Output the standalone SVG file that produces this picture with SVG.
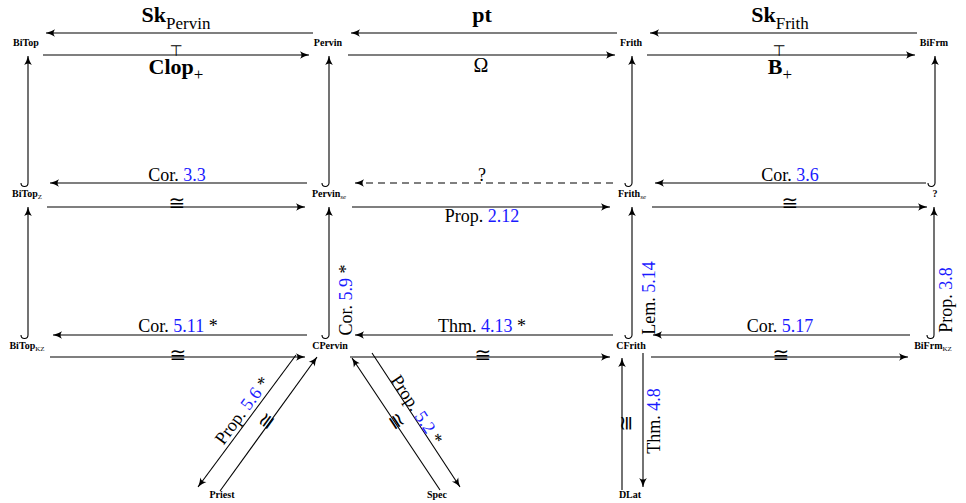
<svg xmlns="http://www.w3.org/2000/svg" width="966" height="503" viewBox="0 0 966 503">
<style>
.n{font-family:"Liberation Serif","Times New Roman",serif;font-weight:bold;font-size:10px;fill:#000;text-anchor:middle}
.s{font-weight:normal;font-size:7px}
.si{font-weight:normal;font-style:italic;font-size:7px}
.l{font-family:"Liberation Serif","Times New Roman",serif;font-size:18px;fill:#000;text-anchor:middle}
.b{font-weight:bold;font-size:22px}
.sub{font-weight:normal;font-size:17px}
.r{fill:#1a1aff}
.e{fill:none;stroke:#000;stroke-width:1.1;marker-end:url(#ah)}
.d{stroke-dasharray:7,5}
.t{font-family:"DejaVu Sans",sans-serif;font-size:15px;text-anchor:middle;fill:#000}
.c{font-family:"DejaVu Sans",sans-serif;font-size:20px;text-anchor:middle;fill:#000}
</style>
<defs>
<marker id="ah" viewBox="-10 -5 12 10" refX="0" refY="0" markerWidth="12" markerHeight="10" markerUnits="userSpaceOnUse" orient="auto">
<path d="M0,0 Q-5,-1.2 -9,-3.8 Q-6,0 -9,3.8 Q-5,1.2 0,0 Z" fill="#000"/>
</marker>
</defs>
<rect width="966" height="503" fill="#fff"/>
<g id="connectors">
<path class="e" d="M313,33 L46,33"/>
<path class="e" d="M43,55 L309,55"/>
<path class="e" d="M617,33 L351,33"/>
<path class="e" d="M348,55 L615,55"/>
<path class="e" d="M917,33 L650,33"/>
<path class="e" d="M647,55 L915,55"/>
<path class="e" d="M307,183 L50,183"/>
<path class="e" d="M47,207 L305,207"/>
<path class="e d" d="M613,183 L355,183"/>
<path class="e" d="M352,207 L610,207"/>
<path class="e" d="M926,183 L655,183"/>
<path class="e" d="M652,207 L927,207"/>
<path class="e" d="M307,335 L53,335"/>
<path class="e" d="M50,357 L305,357"/>
<path class="e" d="M613,335 L355,335"/>
<path class="e" d="M350,357 L610,357"/>
<path class="e" d="M910,335 L653,335"/>
<path class="e" d="M651,357 L908,357"/>
<path class="e" d="M21,183 A3.5,3.5 0 0 0 28,183 L28,56"/>
<path class="e" d="M322,183 A3.5,3.5 0 0 0 329,183 L329,56"/>
<path class="e" d="M625,183 A3.5,3.5 0 0 0 632,183 L632,56"/>
<path class="e" d="M928,183 A3.5,3.5 0 0 0 935,183 L935,56"/>
<path class="e" d="M21,335 A3.5,3.5 0 0 0 28,335 L28,207"/>
<path class="e" d="M322,335 A3.5,3.5 0 0 0 329,335 L329,207"/>
<path class="e" d="M625,335 A3.5,3.5 0 0 0 632,335 L632,207"/>
<path class="e" d="M927,335 A3.5,3.5 0 0 0 934,335 L934,207"/>
<path class="e" d="M296,355 L198,487"/>
<path class="e" d="M220,491 L317,357"/>
<path class="e" d="M440,490 L352,358"/>
<path class="e" d="M372,353 L460,487"/>
<path class="e" d="M622,490 L622,358"/>
<path class="e" d="M643,353 L643,487"/>
<g id="edge-labels">
<text class="l" x="176" y="22"><tspan class="b">Sk</tspan><tspan class="sub" dy="6.5">Pervin</tspan></text>
<text class="t" x="176" y="56">⊤</text>
<text class="l" x="176" y="74"><tspan class="b">Clop</tspan><tspan class="sub" dy="6">+</tspan></text>
<text class="l" x="482" y="22"><tspan class="b">pt</tspan></text>
<text class="l" x="481" y="72" style="font-size:20px">Ω</text>
<text class="l" x="780" y="22"><tspan class="b">Sk</tspan><tspan class="sub" dy="6.5">Frith</tspan></text>
<text class="t" x="779" y="56">⊤</text>
<text class="l" x="780" y="74"><tspan class="b">B</tspan><tspan class="sub" dy="6">+</tspan></text>
<text class="l" x="177" y="181">Cor. <tspan class="r">3.3</tspan></text>
<text class="c" x="177" y="210">≅</text>
<text class="l" x="482" y="181">?</text>
<text class="l" x="482" y="222">Prop. <tspan class="r">2.12</tspan></text>
<text class="l" x="790" y="181">Cor. <tspan class="r">3.6</tspan></text>
<text class="c" x="790" y="210">≅</text>
<text class="l" x="178" y="332">Cor. <tspan class="r">5.11</tspan> *</text>
<text class="c" x="178" y="362">≅</text>
<text class="l" x="482" y="332">Thm. <tspan class="r">4.13</tspan> *</text>
<text class="c" x="483" y="362">≅</text>
<text class="l" x="780" y="332">Cor. <tspan class="r">5.17</tspan></text>
<text class="c" x="781" y="362">≅</text>
<text class="l" transform="translate(352,300) rotate(-90)">Cor. <tspan class="r">5.9</tspan> *</text>
<text class="l" transform="translate(655,298) rotate(-90)">Lem. <tspan class="r">5.14</tspan></text>
<text class="l" transform="translate(952,300) rotate(-90)">Prop. <tspan class="r">3.8</tspan></text>
<text class="l" transform="translate(660,421) rotate(-90)">Thm. <tspan class="r">4.8</tspan></text>
<text class="l" transform="translate(247,414) rotate(-53.4)">Prop. <tspan class="r">5.6</tspan> *</text>
<text class="c" transform="translate(272,425) rotate(-54)">≅</text>
<text class="l" transform="translate(412,413) rotate(56.5)">Prop. <tspan class="r">5.2</tspan> *</text>
<text class="c" transform="translate(391,425) rotate(56.3)">≅</text>
<text class="c" transform="translate(633,423) rotate(-90)">≅</text>
</g>
</g>
<g id="node-BiTop"><text class="n" x="26" y="46">BiTop</text></g>
<g id="node-Pervin"><text class="n" x="328" y="46">Pervin</text></g>
<g id="node-Frith"><text class="n" x="631" y="46">Frith</text></g>
<g id="node-BiFrm"><text class="n" x="934" y="46">BiFrm</text></g>
<g id="node-BiTopZ"><text class="n" x="27" y="197">BiTop<tspan class="s" dy="1.5">Z</tspan></text></g>
<g id="node-Pervinse"><text class="n" x="329" y="197">Pervin<tspan class="si" dy="1.5">se</tspan></text></g>
<g id="node-Frithse"><text class="n" x="632" y="197">Frith<tspan class="si" dy="1.5">se</tspan></text></g>
<g id="node-Q"><text class="n" x="935" y="197">?</text></g>
<g id="node-BiTopKZ"><text class="n" x="27" y="349">BiTop<tspan class="s" dy="1.5">KZ</tspan></text></g>
<g id="node-CPervin"><text class="n" x="330" y="349">CPervin</text></g>
<g id="node-CFrith"><text class="n" x="631" y="349">CFrith</text></g>
<g id="node-BiFrmKZ"><text class="n" x="933" y="349">BiFrm<tspan class="s" dy="1.5">KZ</tspan></text></g>
<g id="node-Priest"><text class="n" x="222" y="498">Priest</text></g>
<g id="node-Spec"><text class="n" x="437" y="498">Spec</text></g>
<g id="node-DLat"><text class="n" x="630" y="498">DLat</text></g>
</svg>
